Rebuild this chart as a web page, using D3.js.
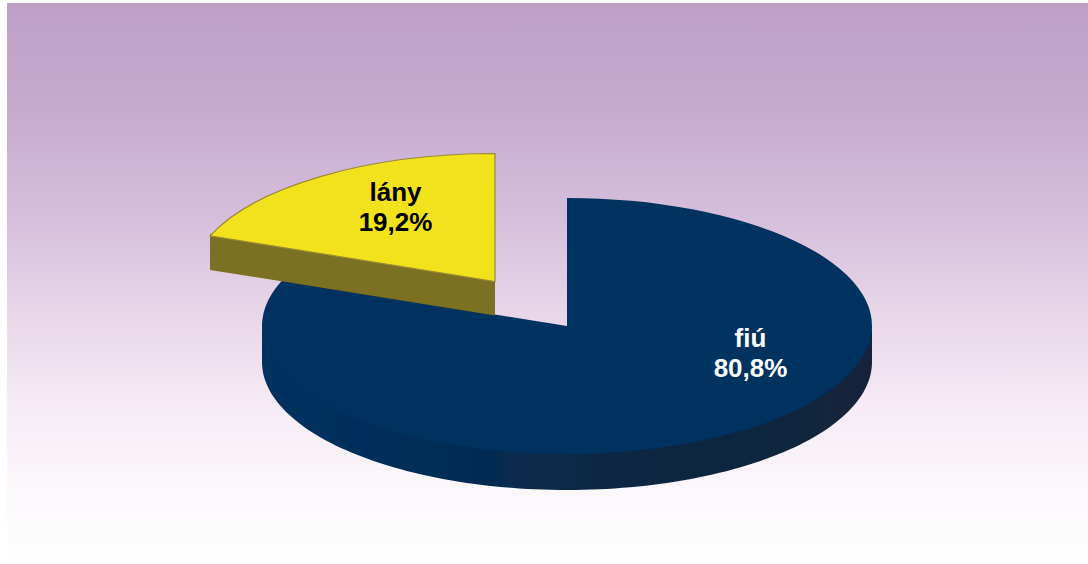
<!DOCTYPE html>
<html>
<head>
<meta charset="utf-8">
<style>
html,body{margin:0;padding:0;background:#fff;overflow:hidden}
svg{display:block}
text{font-family:"Liberation Sans",Arial,sans-serif;font-weight:bold;font-size:26px;text-anchor:middle}
</style>
</head>
<body>
<svg id="c" width="1088" height="564"></svg>
<script src="https://cdn.jsdelivr.net/npm/d3@7/dist/d3.min.js"></script>
<script>
const categories = ["fiú", "lány"];
const values = [80.8, 19.2];
const valueLabels = ["80,8%", "19,2%"];
const W = 1088, H = 564;
const rx = 305, ry = 128;
const centers = [[567, 326], [495, 281.5]];
const depths = [36, 34];
const topColors = ["#03305f", "#f2e21e"];
const textColors = ["#ffffff", "#000000"];
const labelPos = [[750.5, 347], [395.5, 200.5]];

const svg = d3.select("#c");
const defs = svg.append("defs");
const bg = defs.append("linearGradient").attr("id","bg").attr("x1",0).attr("y1",0).attr("x2",0).attr("y2",1);
[[0,"#bf9fc8"],[0.18,"#c6a9cf"],[0.38,"#d5bedc"],[0.55,"#e7d6e8"],[0.7,"#f5e9f5"],[0.85,"#fbf7fb"],[1,"#ffffff"]]
  .forEach(d=>bg.append("stop").attr("offset",d[0]).attr("stop-color",d[1]));
const wall = defs.append("linearGradient").attr("id","wall").attr("gradientUnits","userSpaceOnUse")
  .attr("x1",centers[0][0]-rx).attr("y1",0).attr("x2",centers[0][0]+rx).attr("y2",0);
[[0,"#03305f"],[0.15,"#032f5c"],[0.35,"#052c53"],[0.55,"#0c2844"],[1,"#13243a"]]
  .forEach(d=>wall.append("stop").attr("offset",d[0]).attr("stop-color",d[1]));
defs.append("filter").attr("id","soft").append("feGaussianBlur").attr("stdDeviation",0.6);

svg.append("rect").attr("x",7).attr("y",3).attr("width",W-7).attr("height",H-3).attr("fill","url(#bg)");

const pie = d3.pie().sort(null).startAngle(0).endAngle(2*Math.PI);
const arcs = pie(values);
const arcGen = d3.arc().innerRadius(0).outerRadius(rx);
const g = svg.append("g").attr("filter","url(#soft)");

// navy rim: front half of the ellipse, extruded downwards
const [cx0, cy0] = centers[0];
const rimAngles = d3.range(Math.PI/2, 3*Math.PI/2 + 0.001, Math.PI/120);
const rim = d3.area()
  .x(a => cx0 + rx*Math.sin(a))
  .y0(a => cy0 - ry*Math.cos(a) - 4)
  .y1(a => cy0 - ry*Math.cos(a) + depths[0]);
g.append("path").attr("d", rim(rimAngles)).attr("fill","url(#wall)");
g.append("path")
  .attr("d", arcGen(arcs[0]))
  .attr("transform", `translate(${cx0},${cy0}) scale(1,${ry/rx})`)
  .attr("fill", topColors[0]);

// yellow slice: extruded radial face, then top
const [cx1, cy1] = centers[1];
const ea = arcs[1].startAngle;
const edge = d3.area()
  .x(t => cx1 + t*rx*Math.sin(ea))
  .y0(t => cy1 - t*ry*Math.cos(ea) - 2)
  .y1(t => cy1 - t*ry*Math.cos(ea) + depths[1]);
g.append("path").attr("d", edge([0,1])).attr("fill","#7b6f20");
g.append("path")
  .attr("d", arcGen(arcs[1]))
  .attr("transform", `translate(${cx1},${cy1}) scale(1,${ry/rx})`)
  .attr("fill", topColors[1])
  .attr("stroke", "#9a8a3a").attr("stroke-width", 1.2)
  .attr("vector-effect", "non-scaling-stroke");

categories.forEach((c,i)=>{
  const t = svg.append("text").attr("fill",textColors[i]);
  t.append("tspan").attr("x",labelPos[i][0]).attr("y",labelPos[i][1]).text(c);
  t.append("tspan").attr("x",labelPos[i][0]).attr("y",labelPos[i][1]+30).text(valueLabels[i]);
});
</script>
</body>
</html>
